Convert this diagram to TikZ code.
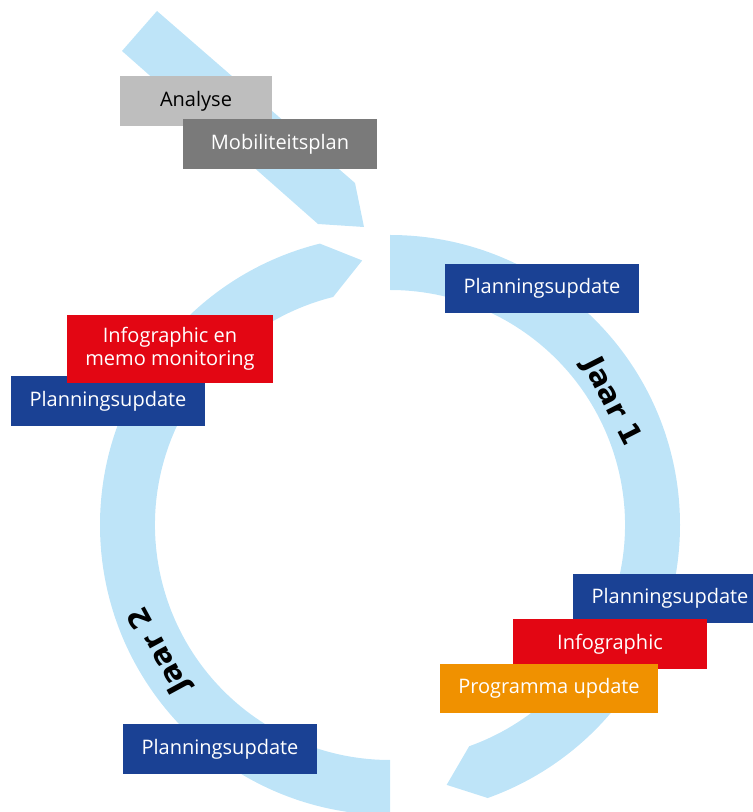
\documentclass[tikz,border=0pt]{standalone}
\usepackage{fontspec}
\setmainfont{Open Sans}
\newfontfamily\jaarfont{DejaVu Sans}
\usetikzlibrary{calc}
\definecolor{ringblue}{HTML}{BEE4F8}
\definecolor{planblue}{HTML}{1A4194}
\definecolor{infored}{HTML}{E30613}
\definecolor{progorange}{HTML}{F09100}
\definecolor{lightgrey}{HTML}{BEBEBE}
\definecolor{darkgrey}{HTML}{7A7A7A}
\begin{document}
\begin{tikzpicture}[x=1pt,y=1pt,
  box/.style={rectangle, inner sep=0pt, text=white, align=center,
    font=\fontsize{20}{23}\selectfont},
  plan/.style={box, fill=planblue, minimum width=194pt, minimum height=49.5pt},
  jaar/.style={inner sep=0pt, text=black, font=\jaarfont\bfseries\fontsize{29}{29}\selectfont}]
\useasboundingbox (0,0) rectangle (753,812);
\clip (0,0) rectangle (753,812);
\coordinate (C) at (390,287);
% ring segment year 1
\fill[ringblue] ($(C)+(90:290pt)$) arc[start angle=90,end angle=-70.3,radius=290pt]
  -- ($(C)+(-77.7:266pt)$) -- ($(C)+(-70.3:235pt)$)
  arc[start angle=-70.3,end angle=90,radius=235pt] -- cycle;
% ring segment year 2
\fill[ringblue] ($(C)+(270:290pt)$) arc[start angle=270,end angle=104,radius=290pt]
  -- ($(C)+(96:266pt)$) -- ($(C)+(104:235pt)$)
  arc[start angle=104,end angle=270,radius=235pt] -- cycle;
% entry arrow
\fill[ringblue] (157,801) -- (355,629) -- (364,585) -- (318,588) -- (122,761) -- cycle;
% labels on the ring
\node[jaar, rotate=-63] (j1) at ($(C)+(29:253pt)$) {Jaar 1};
\node[jaar, rotate=118.5] (j2) at ($(C)+(208.5:262pt)$) {Jaar 2};
% boxes
\node[box, fill=lightgrey, text=black, minimum width=152pt, minimum height=50pt] (analyse) at (196,711) {Analyse};
\node[box, fill=darkgrey, minimum width=194pt, minimum height=50pt] (mob) at (280,668) {Mobiliteitsplan};
\node[plan] (p1) at (542,523.5) {Planningsupdate};
\node[plan] (p4) at (108,411) {Planningsupdate};
\node[box, fill=infored, minimum width=206pt, minimum height=68pt] (memo) at (170,463) {Infographic en\\memo monitoring};
\node[plan] (p2) at (670,213.5) {Planningsupdate};
\node[box, fill=infored, minimum width=194pt, minimum height=50pt] (info) at (610,168) {Infographic};
\node[box, fill=progorange, minimum width=218pt, minimum height=49.5pt] (prog) at (549,123.5) {Programma update};
\node[plan] (p3) at (220,63) {Planningsupdate};
\end{tikzpicture}
\end{document}
